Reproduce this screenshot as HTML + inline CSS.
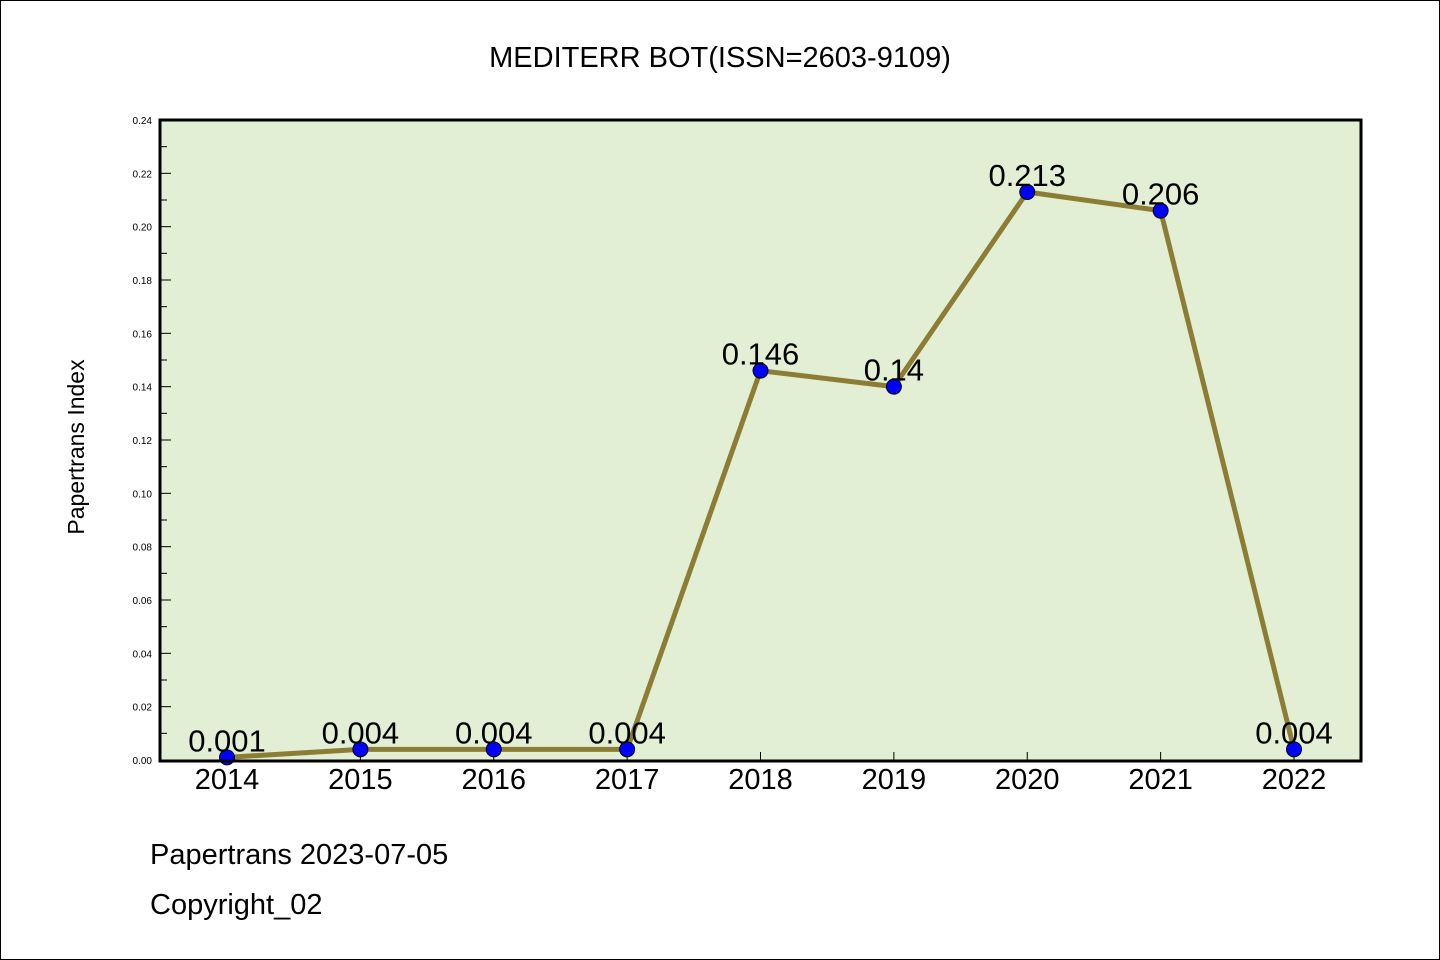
<!DOCTYPE html>
<html><head><meta charset="utf-8"><style>
html,body{margin:0;padding:0;background:#fff}
svg{display:block}
text{font-family:"Liberation Sans","WenQuanYi Zen Hei",sans-serif}
</style></head><body>
<svg id="chart" width="1440" height="960" xmlns="http://www.w3.org/2000/svg">
<rect x="0.5" y="0.5" width="1439" height="959" fill="#fff" stroke="#000" stroke-width="1"/>
<text x="720" y="67" font-size="29" text-anchor="middle">MEDITERR BOT(ISSN=2603-9109)</text>
<rect x="160" y="120" width="1201" height="641" fill="#e2efd4"/>
<g id="yaxis"></g>
<g id="xaxis"></g>
<g id="series"></g>
<rect x="160" y="120" width="1201" height="641" fill="none" stroke="#000" stroke-width="3"/>
<text transform="translate(84,447) rotate(-90)" font-size="23" text-anchor="middle">Papertrans Index</text>
<text x="150" y="864" font-size="29">Papertrans 2023-07-05</text>
<text x="150" y="914" font-size="29">Copyright_02</text>
</svg>
<script>
const categories=["2014","2015","2016","2017","2018","2019","2020","2021","2022"];
const values=[0.001,0.004,0.004,0.004,0.146,0.14,0.213,0.206,0.004];
const valueLabels=["0.001","0.004","0.004","0.004","0.146","0.14","0.213","0.206","0.004"];
const yTicks=[0,0.02,0.04,0.06,0.08,0.10,0.12,0.14,0.16,0.18,0.20,0.22,0.24];
const NS="http://www.w3.org/2000/svg";
const x=i=>227+i*(1294-227)/(categories.length-1);
const y=v=>760-v*(640/0.24);
function mk(tag,attrs,parent){const e=document.createElementNS(NS,tag);for(const k in attrs)e.setAttribute(k,attrs[k]);parent.appendChild(e);return e;}
const ya=document.getElementById('yaxis');
yTicks.forEach((t,i)=>{
 const l=mk('line',{x1:160,x2:171,y1:y(t),y2:y(t),stroke:'#000','stroke-width':1},ya);
 
 
 const tx=mk('text',{x:152,y:y(t)+4,'font-size':10,'text-anchor':'end'},ya);
 
 
 tx.textContent=t.toFixed(2);
 if(i<yTicks.length-1){
  const m=mk('line',{x1:160,x2:167,y1:y(t+0.01),y2:y(t+0.01),stroke:'#000','stroke-width':1},ya);
  
  
 }
});
const xa=document.getElementById('xaxis');
categories.forEach((c,i)=>{
 const l=mk('line',{x1:x(i),x2:x(i),y1:760,y2:752,stroke:'#000','stroke-width':1},xa);
 
 
 const tx=mk('text',{x:x(i),y:789,'font-size':29,'text-anchor':'middle'},xa);
 
 
 tx.textContent=c;
});
const s=document.getElementById('series');
const pl=mk('polyline',{points:values.map((v,i)=>x(i)+','+y(v)).join(' '),fill:'none',stroke:'#8c7d34','stroke-width':5,'stroke-linejoin':'round'},s);


values.forEach((v,i)=>{
 const c=mk('circle',{cx:x(i),cy:y(v),r:7.5,fill:'#0000ff',stroke:'#000','stroke-width':1},s);
 
 
 const t=mk('text',{x:x(i),y:y(v)-6,'font-size':31,'text-anchor':'middle'},s);
 
 
 t.textContent=valueLabels[i];
});
</script>
</body></html>
